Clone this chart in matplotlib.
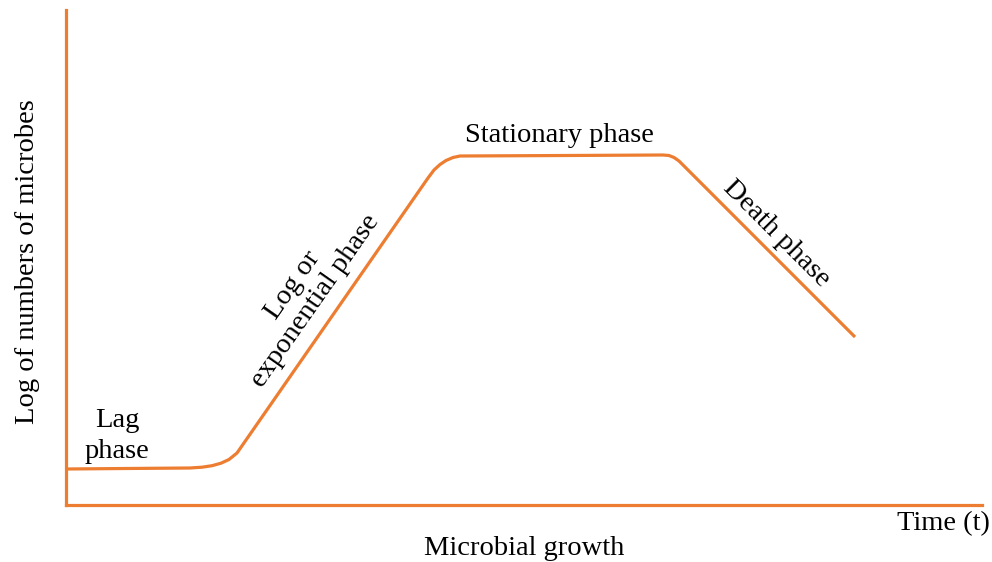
import matplotlib
matplotlib.use("Agg")
import matplotlib.pyplot as plt

plt.rcParams['font.family'] = ['Liberation Serif', 'DejaVu Serif']

# growth curve (time vs log count, arbitrary units)
time = [0, 60, 124, 136, 146, 155, 163, 171, 362, 368, 374, 380, 387, 394, 500, 597, 603, 608, 613, 627, 789]
log_n = [36, 36.5, 37, 37.8, 39.3, 41.8, 45.5, 52, 327, 335, 340.5, 344.5, 347.5, 349, 349.5, 350, 349.5, 347.5, 344, 330, 168]

orange = '#ED7D31'

fig = plt.figure(figsize=(9.92, 5.62), dpi=100)
ax = fig.add_axes([66 / 992, 57 / 562, 916 / 992, 495 / 562])
ax.plot(time, log_n, color=orange, lw=2.3, solid_capstyle='butt')
ax.set_xlim(0, 916)
ax.set_ylim(0, 495)
for s in ['top', 'right']:
    ax.spines[s].set_visible(False)
for s in ['left', 'bottom']:
    ax.spines[s].set_color(orange)
    ax.spines[s].set_linewidth(2.3)
ax.set_xticks([])
ax.set_yticks([])

fs = 20.5
ax.text(493, 370, 'Stationary phase', fontsize=fs, ha='center', va='center')
ax.text(51, 69, 'Lag\nphase', fontsize=fs, ha='center', va='center', linespacing=1.3)
ax.text(238, 212, 'Log or\nexponential phase', fontsize=fs, ha='center', va='center',
        rotation=55, rotation_mode='anchor', linespacing=1.15)
ax.text(710, 271, 'Death phase', fontsize=fs, ha='center', va='center',
        rotation=-45, rotation_mode='anchor')

fig.text(28 / 992, 1 - 262 / 562, 'Log of numbers of microbes', fontsize=fs,
         rotation=90, ha='center', va='center')
fig.text(990 / 992, 1 - 524 / 562, 'Time (t)', fontsize=fs, ha='right', va='center')
fig.text(524 / 992, 1 / 562, 'Microbial growth', fontsize=fs, ha='center', va='bottom')

fig.savefig('out.png', dpi=100)
